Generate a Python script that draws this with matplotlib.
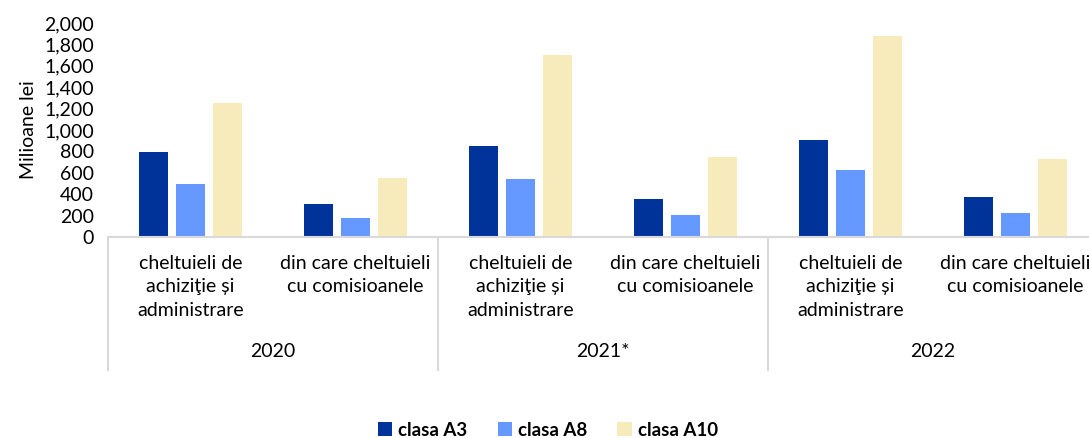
import matplotlib
matplotlib.use("Agg")
import matplotlib.pyplot as plt
from matplotlib.patches import Patch
import numpy as np

plt.rcParams['font.family'] = ['Lato', 'DejaVu Sans']

years = ["2020", "2021*", "2022"]
categories = ["cheltuieli de\nachiziţie și\nadministrare", "din care cheltuieli\ncu comisioanele"]
series_names = ["clasa A3", "clasa A8", "clasa A10"]
clasa_A3 = [791, 310, 854, 357, 911, 376]
clasa_A8 = [500, 178, 545, 207, 626, 222]
clasa_A10 = [1249, 554, 1700, 751, 1881, 732]
colors = ["#003399", "#6699FF", "#F7EBBB"]
yticks = list(range(0, 2001, 200))

W, H = 1089, 438
fig = plt.figure(figsize=(W / 100, H / 100), dpi=100)
ax = fig.add_axes([108 / W, (H - 237) / H, (1098 - 108) / W, (237 - 23) / H])

n = len(years) * len(categories)
x = np.arange(n) + 0.5
step = 0.222
bw = 0.176
for i, (vals, c, name) in enumerate(zip([clasa_A3, clasa_A8, clasa_A10], colors, series_names)):
    ax.bar(x + (i - 1) * step, vals, width=bw, color=c, label=name, zorder=2)

ax.set_xlim(0, n)
ax.set_ylim(0, 2000)
ax.set_yticks(yticks)
ax.set_yticklabels([f"{v:,}" for v in yticks], fontsize=14)
ax.tick_params(axis='y', length=0, pad=10)
ax.set_xticks([])
for s in ["top", "right", "left"]:
    ax.spines[s].set_visible(False)
ax.spines["bottom"].set_color("#d9d9d9")
ax.spines["bottom"].set_linewidth(1.5)
ax.set_ylabel("Milioane lei", fontsize=14, labelpad=5)

trans = ax.get_xaxis_transform()
for g, yr in enumerate(years):
    for k, cat in enumerate(categories):
        ax.text(g * 2 + k + 0.5, -0.085, cat, transform=trans, ha='center', va='top',
                fontsize=14, linespacing=1.45, clip_on=False)
    ax.text(g * 2 + 1, -0.537, yr, transform=trans, ha='center', va='center',
            fontsize=14, clip_on=False)
for b in range(0, n + 1, 2):
    ax.plot([b, b], [0, -0.621], transform=trans, color="#d9d9d9", lw=1.5, clip_on=False)

handles = [Patch(facecolor=c, edgecolor='none') for c in colors]
leg = fig.legend(handles, series_names, loc='center', bbox_to_anchor=(548 / W, 1 - 430 / H),
                 ncol=3, frameon=False, prop={'weight': 'bold', 'size': 13.5},
                 handlelength=0.75, handleheight=0.75, handletextpad=0.35, columnspacing=1.6)

fig.savefig("out.png", dpi=100)
